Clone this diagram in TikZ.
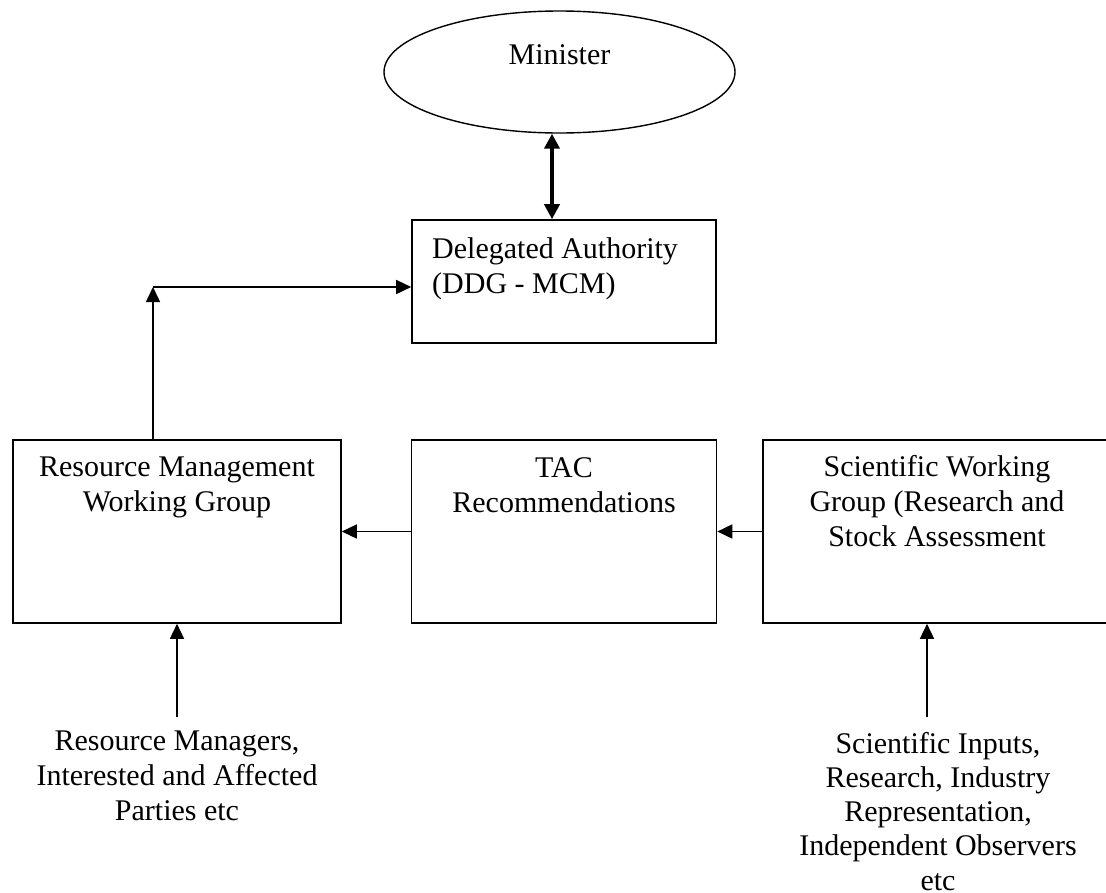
\documentclass[tikz,border=0pt]{standalone}
\usepackage{fontspec}
\setmainfont{Liberation Serif}
\usetikzlibrary{arrows.meta,shapes.geometric}
\tikzset{
  box/.style={draw, line width=1.6pt, rectangle, inner sep=0pt},
  txt/.style={inner sep=0pt, font=\fontsize{30}{35}\selectfont},
  arrtip/.style={-{Triangle[length=15pt,width=14pt]}},
  arr/.style={line width=1.6pt, arrtip},
  dbl/.style={line width=4pt, {Triangle[length=15pt,width=15pt]}-{Triangle[length=15pt,width=15pt]}}
}
\begin{document}
\begin{tikzpicture}[x=1pt,y=-1pt]
\useasboundingbox (0,0) rectangle (1106,892);
% Minister
\node[draw, line width=1.4pt, ellipse, minimum width=351pt, minimum height=122pt, inner sep=0pt] (min) at (559.5,72) {};
\node[txt, anchor=base] (mint) at (559.5,64) {Minister};
% Delegated Authority
\node[box, minimum width=304pt, minimum height=123pt] (da) at (564,281.5) {};
\node[txt, anchor=north west, align=left] (dat) at (432,237) {Delegated Authority\\(DDG - MCM)};
% Resource Management WG
\node[box, minimum width=328pt, minimum height=183pt] (rm) at (177,531.5) {};
\node[txt, anchor=north, align=center] (rmt) at (177,457) {Resource Management\\Working Group};
% TAC
\node[box, minimum width=305pt, minimum height=183pt] (tac) at (564,531.5) {};
\node[txt, anchor=north, align=center] (tact) at (564,457) {TAC\\Recommendations};
% Scientific WG
\node[box, minimum width=349pt, minimum height=183pt] (sw) at (937.5,531.5) {};
\node[txt, anchor=north, align=center] (swt) at (937,455) {Scientific Working\\Group (Research and\\Stock Assessment};
% bottom texts
\node[txt, anchor=north, align=center] (rmin) at (177,731) {Resource Managers,\\Interested and Affected\\Parties etc};
\node[txt, anchor=north, align=center, font=\fontsize{30}{34.2}\selectfont] (swin) at (938,732) {Scientific Inputs,\\Research, Industry\\Representation,\\Independent Observers\\etc};
% connectors
\coordinate (m) at (552,0);
\draw[dbl] (min.south -| m) -- (da.north -| m);
\coordinate (c) at (153,287);
\draw[arr] (rm.north -| c) -- (c);
\draw[arr] (c) -- (c -| da.west);
\draw[arr] (tac.west) -- (rm.east);
\draw[arr] (sw.west) -- (tac.east);
\coordinate (b1) at (177,717);
\coordinate (b2) at (927,717);
\draw[arr] (b1) -- (rm.south -| b1);
\draw[arr] (b2) -- (sw.south -| b2);
\end{tikzpicture}
\end{document}
